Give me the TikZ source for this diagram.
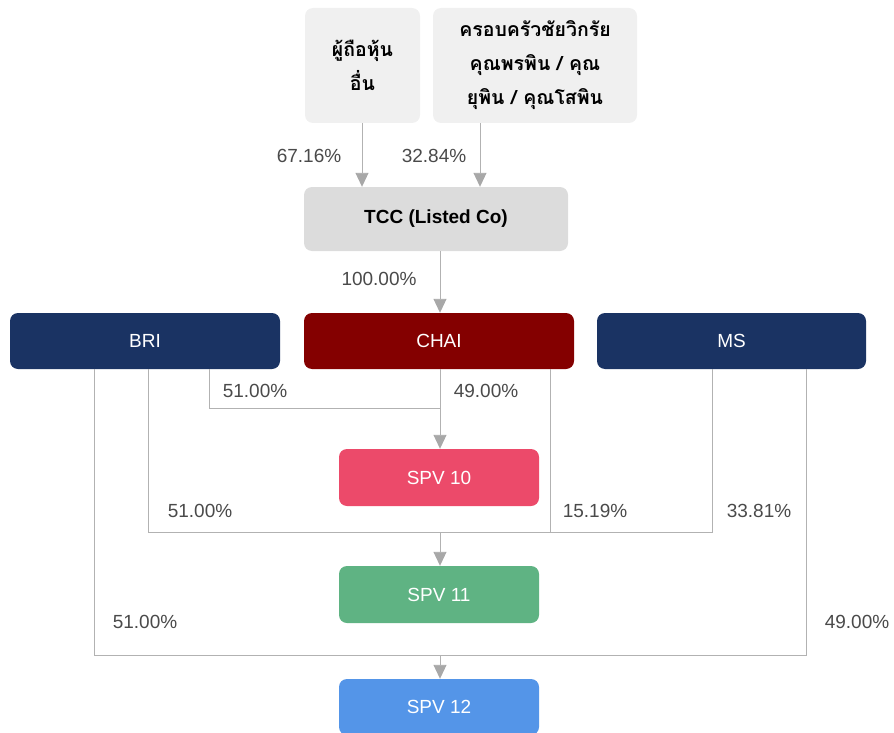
\documentclass[tikz,border=0pt]{standalone}
\usepackage{fontspec}
\setmainfont{Liberation Sans}
\newfontfamily\thaifont[Script=Thai]{Loma}
\usetikzlibrary{arrows.meta,calc}
\definecolor{lightbox}{HTML}{F0F0F0}
\definecolor{tccgray}{HTML}{DCDCDC}
\definecolor{navy}{HTML}{1A3363}
\definecolor{chaired}{HTML}{840000}
\definecolor{spvred}{HTML}{EC4A6A}
\definecolor{spvgreen}{HTML}{5FB383}
\definecolor{spvblue}{HTML}{5495E8}
\definecolor{linegray}{HTML}{B2B2B2}
\definecolor{arrowgray}{HTML}{A8A8A8}
\definecolor{labelgray}{HTML}{4A4A4A}
\begin{document}
\begin{tikzpicture}[x=1pt,y=-1pt,
  box/.style={rounded corners=8pt, inner sep=0pt, align=center, font=\fontsize{19}{23}\selectfont},
  topbox/.style={box, fill=lightbox, font=\thaifont\bfseries\fontsize{19.5}{34}\selectfont},
  colbox/.style={box, text=white},
  conn/.style={draw=linegray, line width=0.9pt},
  arr/.style={conn, -{Triangle[width=13pt,length=14pt,fill=arrowgray,color=arrowgray]}},
  pct/.style={text=labelgray, font=\fontsize{19}{23}\selectfont, inner sep=0pt}
]
\useasboundingbox (0,0) rectangle (894,733);

% nodes
\node[topbox, minimum width=115pt, minimum height=115pt] (a) at (362.5,65.5) {ผู้ถือหุ้น\\อื่น};
\node[topbox, minimum width=204pt, minimum height=115pt] (b) at (535,65.5) {ครอบครัวชัยวิกรัย\\คุณพรพิน / คุณ\\ยุพิน / คุณโสพิน};
\node[box, fill=tccgray, minimum width=264pt, minimum height=64pt, font=\bfseries\fontsize{19}{23}\selectfont] (tcc) at (436,219) {TCC (Listed Co)};
\node[colbox, fill=navy, minimum width=270pt, minimum height=56pt] (bri) at (145,341) {BRI};
\node[colbox, fill=chaired, minimum width=270pt, minimum height=56pt] (chai) at (439,341) {CHAI};
\node[colbox, fill=navy, minimum width=269pt, minimum height=56pt] (ms) at (731.5,341) {MS};
\node[colbox, fill=spvred, minimum width=200pt, minimum height=57pt] (spv10) at (439,477.5) {SPV 10};
\node[colbox, fill=spvgreen, minimum width=200pt, minimum height=57pt] (spv11) at (439,594.5) {SPV 11};
\node[colbox, fill=spvblue, minimum width=200pt, minimum height=56pt] (spv12) at (439,707) {SPV 12};

% x positions of connector tracks
\coordinate (xa) at (362,0);
\coordinate (xb) at (480,0);
\coordinate (xc) at (440,0);
\coordinate (xb1) at (94,0);
\coordinate (xb2) at (148,0);
\coordinate (xb3) at (209,0);
\coordinate (xc2) at (550,0);
\coordinate (xm1) at (712,0);
\coordinate (xm2) at (806,0);
\coordinate (y10) at (0,408);
\coordinate (y11) at (0,532);
\coordinate (y12) at (0,655);

% connectors
\draw[arr] (a.south -| xa) -- (tcc.north -| xa);
\draw[arr] (b.south -| xb) -- (tcc.north -| xb);
\draw[arr] (tcc.south -| xc) -- (chai.north -| xc);

\draw[conn] (bri.south -| xb3) -- (xb3 |- y10) -- (xc |- y10);
\draw[arr] (chai.south -| xc) -- (spv10.north -| xc);

\draw[conn] (bri.south -| xb2) -- (xb2 |- y11) -- (xc |- y11);
\draw[conn] (chai.south -| xc2) -- (xc2 |- y11) -- (xc |- y11);
\draw[conn] (ms.south -| xm1) -- (xm1 |- y11) -- (xc |- y11);
\draw[arr] (xc |- y11) -- (spv11.north -| xc);

\draw[conn] (bri.south -| xb1) -- (xb1 |- y12) -- (xc |- y12);
\draw[conn] (ms.south -| xm2) -- (xm2 |- y12) -- (xc |- y12);
\draw[arr] (xc |- y12) -- (spv12.north -| xc);

% labels
\node[pct] (l1) at (309,156) {67.16\%};
\node[pct] (l2) at (434,156) {32.84\%};
\node[pct] (l3) at (379,279) {100.00\%};
\node[pct] (l4) at (255,391) {51.00\%};
\node[pct] (l5) at (486,391) {49.00\%};
\node[pct] (l6) at (200,511) {51.00\%};
\node[pct] (l7) at (595,511) {15.19\%};
\node[pct] (l8) at (759,511) {33.81\%};
\node[pct] (l9) at (145,622) {51.00\%};
\node[pct] (l10) at (857,622) {49.00\%};
\end{tikzpicture}
\end{document}
